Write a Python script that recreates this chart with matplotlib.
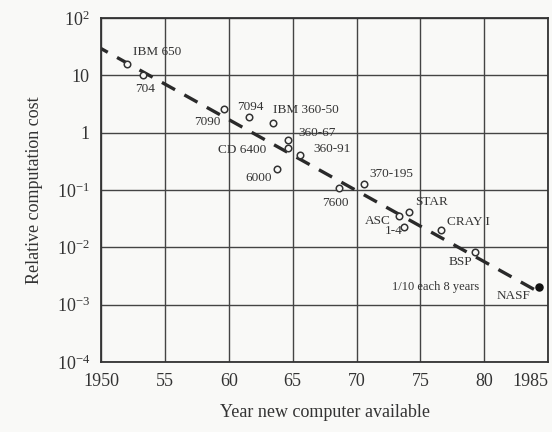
import matplotlib
matplotlib.use("Agg")
import matplotlib.pyplot as plt
from matplotlib.ticker import FixedLocator, FixedFormatter

plt.rcParams['font.family'] = ['Liberation Serif', 'DejaVu Serif']
plt.rcParams['mathtext.fontset'] = 'custom'
plt.rcParams['mathtext.rm'] = 'Liberation Serif'
plt.rcParams['mathtext.it'] = 'Liberation Serif'

# Data
machines = ["IBM 650", "704", "7090", "7094", "IBM 360-50", "360-67", "CD 6400",
            "360-91", "6000", "7600", "370-195", "ASC", "STAR", "1-4", "CRAY I", "BSP"]
years = [1952.0, 1953.3, 1959.6, 1961.6, 1963.5, 1964.6, 1964.6,
         1965.6, 1963.8, 1968.6, 1970.6, 1973.3, 1974.1, 1973.7, 1976.6, 1979.3]
costs = [15.8, 10.0, 2.6, 1.86, 1.48, 0.74, 0.54,
         0.41, 0.23, 0.11, 0.13, 0.036, 0.041, 0.023, 0.020, 0.0083]
nasf_year = [1984.3]
nasf_cost = [0.0020]
trend_years = [1949.5, 1984.3]
trend_cost = [34.0, 0.00165]

x_ticks = [1950, 1955, 1960, 1965, 1970, 1975, 1980, 1985]
x_labels = ["1950", "55", "60", "65", "70", "75", "80", "1985"]
y_ticks = [1e-4, 1e-3, 1e-2, 1e-1, 1, 10, 100]
y_labels = [r"$10^{-4}$", r"$10^{-3}$", r"$10^{-2}$", r"$10^{-1}$", "1", "10", r"$10^{2}$"]

# label offsets in points (dx, dy, ha)
label_pos = {
    "IBM 650": (4.3, 8.6, 'left'), "704": (-5.8, -9.4, 'left'), "7090": (-2.5, -9.4, 'right'),
    "7094": (-8.6, 7.2, 'left'), "IBM 360-50": (0, 9.4, 'left'), "360-67": (8, 5, 'left'),
    "CD 6400": (-15, -1.4, 'right'), "360-91": (9.4, 4.3, 'left'), "6000": (-3.6, -6.5, 'right'),
    "7600": (-12, -11, 'left'), "370-195": (3.6, 7.2, 'left'), "ASC": (-5.8, -3.6, 'right'),
    "STAR": (4.3, 7.2, 'left'), "1-4": (-13.7, -2.9, 'left'), "CRAY I": (4.3, 5.8, 'left'),
    "BSP": (-19.4, -7.2, 'left'),
}

bg = '#f9f9f7'
fig = plt.figure(figsize=(5.52, 4.32), dpi=100, facecolor=bg)
ax = fig.add_axes([0.183, 0.162, 0.810, 0.796])
ax.set_facecolor(bg)

ax.plot(trend_years, trend_cost, color='#2a2a2a', lw=2.4, dashes=(4.5, 3.2), zorder=2)
ax.scatter(years, costs, s=22, facecolors=bg, edgecolors='#333333', linewidths=1.1, zorder=3)
ax.scatter(nasf_year, nasf_cost, s=26, color='#111111', zorder=3)

for name, xv, yv in zip(machines, years, costs):
    dx, dy, ha = label_pos[name]
    ax.annotate(name, (xv, yv), xytext=(dx, dy), textcoords='offset points',
                ha=ha, va='center', fontsize=9.5, color='#333333')
ax.annotate("NASF", (nasf_year[0], nasf_cost[0]), xytext=(-31, -5.8), textcoords='offset points',
            ha='left', va='center', fontsize=9.5, color='#333333')
ax.text(1976.2, 2.05e-3, "1/10 each 8 years", ha='center', va='center', fontsize=9, color='#333333')

ax.set_yscale('log')
ax.set_xlim(1950, 1985)
ax.set_ylim(1e-4, 1e2)
ax.xaxis.set_major_locator(FixedLocator(x_ticks))
ax.xaxis.set_major_formatter(FixedFormatter(x_labels))
ax.yaxis.set_major_locator(FixedLocator(y_ticks))
ax.yaxis.set_major_formatter(FixedFormatter(y_labels))
ax.yaxis.set_minor_locator(FixedLocator([]))
ax.grid(True, which='major', color='#444444', lw=1.0)
ax.tick_params(length=0, labelsize=13, colors='#333333', pad=8)
xt = ax.get_xticklabels()
xt[-1].set_ha('right')
xt[-1].set_x(1985)
for s in ax.spines.values():
    s.set_color('#333333')
    s.set_linewidth(1.3)

ax.set_xlabel("Year new computer available", fontsize=13, color='#333333', labelpad=10)
ax.set_ylabel("Relative computation cost", fontsize=13, color='#333333', labelpad=10)

fig.savefig("out.png", dpi=100, facecolor=fig.get_facecolor())
